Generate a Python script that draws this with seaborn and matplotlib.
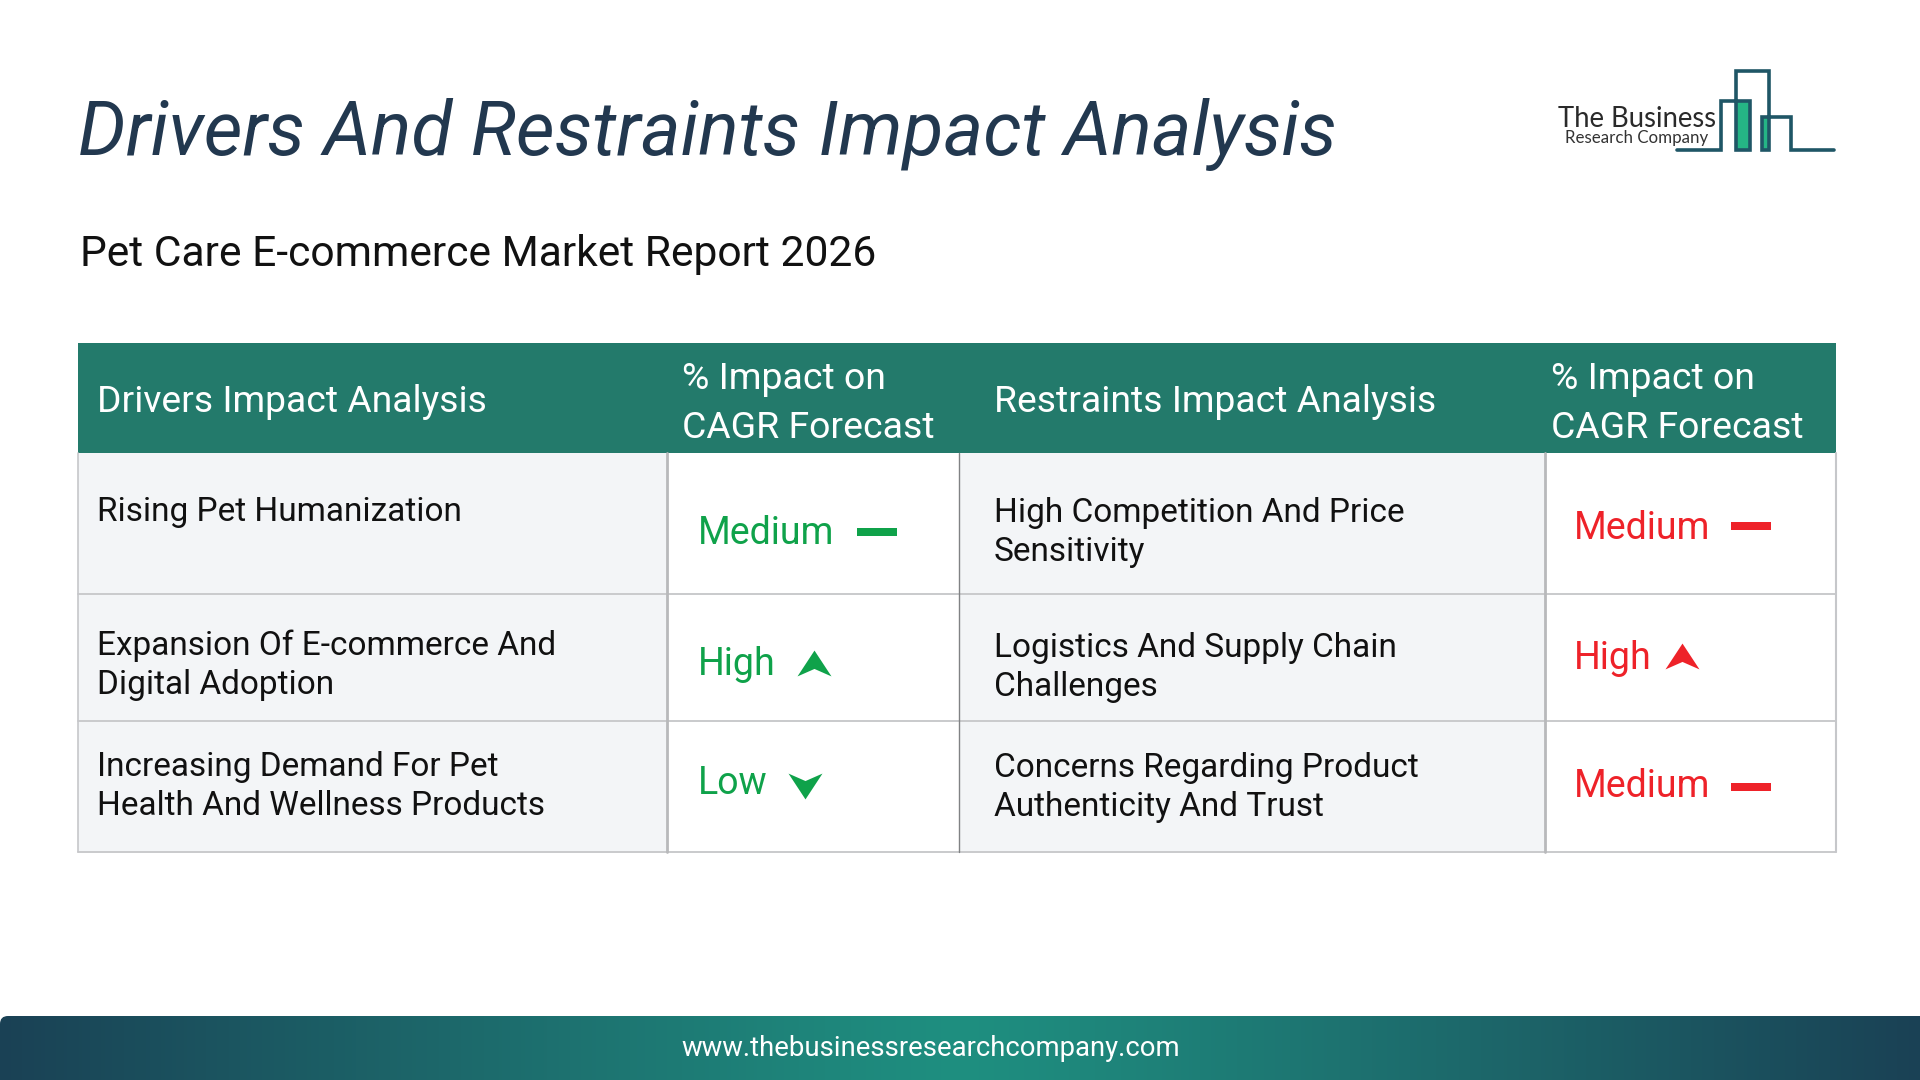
import numpy as np
import seaborn as sns
import matplotlib.pyplot as plt
from matplotlib.path import Path
from matplotlib.patches import PathPatch, Rectangle

title = "Drivers And Restraints Impact Analysis"
subtitle = "Pet Care E-commerce Market Report 2026"
website = "www.thebusinessresearchcompany.com"
driver_header = "Drivers Impact Analysis"
restraint_header = "Restraints Impact Analysis"
impact_header = ["% Impact on", "CAGR Forecast"]
drivers = [["Rising Pet Humanization"],
           ["Expansion Of E-commerce And", "Digital Adoption"],
           ["Increasing Demand For Pet", "Health And Wellness Products"]]
driver_levels = ["Medium", "High", "Low"]
restraints = [["High Competition And Price", "Sensitivity"],
              ["Logistics And Supply Chain", "Challenges"],
              ["Concerns Regarding Product", "Authenticity And Trust"]]
restraint_levels = ["Medium", "High", "Medium"]

# layout, in pixels of the 1920x1080 picture
col_x = [78, 667, 959, 1545, 1836]
row_y = [453, 594, 721, 852]
driver_base = [521, 655, 776]
restraint_base = [522, 657, 777]
green_label_base = [544, 675, 794]
red_label_base = [539, 669, 797]
green_marker = [(877, 532), (814, 663), (805, 786)]
red_marker = [(1751, 526), (1682, 656), (1751, 787)]

GREEN = "#0fa24a"
RED = "#ee2229"
TEAL = "#237a6b"
NAVY = "#22384f"

dash = Path([(-1, -.22), (1, -.22), (1, .22), (-1, .22), (-1, -.22)], closed=True)
up = Path([(0, .76), (1, -.76), (0, -.32), (-1, -.76), (0, .76)], closed=True)
down = Path([(0, -.76), (1, .76), (0, .32), (-1, .76), (0, -.76)], closed=True)
markers = {"Medium": dash, "High": up, "Low": down}
marker_px = {"Medium": 40, "High": 34, "Low": 34}

sns.set_theme(style="white")
plt.rcParams["font.family"] = ["Roboto", "DejaVu Sans"]

fig = plt.figure(figsize=(19.2, 10.8), dpi=100, facecolor="white")
ax = fig.add_axes([0, 0, 1, 1])
ax.set_xlim(0, 1920)
ax.set_ylim(1080, 0)
ax.axis("off")

ax.text(78, 155, title, fontsize=54.2, style="italic", color=NAVY)
ax.text(80, 266, subtitle, fontsize=30.7, color="#111111")

# table body
for i in range(4):
    fill = "#f3f5f7" if i % 2 == 0 else "white"
    ax.add_patch(Rectangle((col_x[i], 453), col_x[i + 1] - col_x[i], 399, fc=fill, ec="none"))
ax.add_patch(Rectangle((78, 343), 1758, 110, fc=TEAL, ec="none"))
for y in row_y[1:]:
    ax.plot([78, 1836], [y, y], color="#c9cacc", lw=1.4)
ax.plot([78, 78], [453, 852], color="#c6c7ca", lw=1.2)
ax.plot([1836, 1836], [453, 852], color="#c6c7ca", lw=1.5)
ax.plot([667, 667], [453, 852], color="#b8b9bb", lw=2.0)
ax.plot([959, 959], [453, 852], color="#808284", lw=1.0)
ax.plot([1545, 1545], [453, 852], color="#b8b9bb", lw=2.0)

ax.text(97, 412, driver_header, fontsize=26.8, color="white")
ax.text(994, 412, restraint_header, fontsize=26.8, color="white")
for x in [682, 1551]:
    ax.text(x, 389, impact_header[0], fontsize=26.9, color="white")
    ax.text(x, 438, impact_header[1], fontsize=26.9, color="white")

for lines, base in zip(drivers, driver_base):
    for j, line in enumerate(lines):
        ax.text(97, base + 39 * j, line, fontsize=24, color="#111111")
for lines, base in zip(restraints, restraint_base):
    for j, line in enumerate(lines):
        ax.text(994, base + 39 * j, line, fontsize=24, color="#111111")

for level, base, pos in zip(driver_levels, green_label_base, green_marker):
    ax.text(698, base, level, fontsize=27, color=GREEN)
    sns.scatterplot(x=[pos[0]], y=[pos[1]], marker=markers[level], color=GREEN,
                    s=(marker_px[level] * 0.72) ** 2, linewidth=0, ax=ax)
for level, base, pos in zip(restraint_levels, red_label_base, red_marker):
    ax.text(1574, base, level, fontsize=27, color=RED)
    sns.scatterplot(x=[pos[0]], y=[pos[1]], marker=markers[level], color=RED,
                    s=(marker_px[level] * 0.72) ** 2, linewidth=0, ax=ax)

# logo
LOGO = "#1f5666"
ax.add_patch(Rectangle((1736, 101), 14, 49, fc="#25b585", ec="none"))
ax.add_patch(Rectangle((1763, 118), 6, 32, fc="#25b585", ec="none"))
ax.plot([1677, 1721, 1721, 1750, 1750, 1736, 1736, 1769, 1769, 1762, 1762, 1791, 1791, 1834],
        [150, 150, 101, 101, 150, 150, 71, 71, 150, 150, 117, 117, 150, 150],
        color=LOGO, lw=2.6, solid_joinstyle="miter")
ax.text(1637, 127, "The Business", fontsize=19.8, family="Lato", color="#2a2a2a", ha="center")
ax.text(1637, 143, "Research Company", fontsize=12.2, family="Lato", color="#333333", ha="center")

# footer bar with horizontal gradient, only the top left corner is rounded
t = np.abs(np.linspace(-1, 1, 512))[None, :, None]
edge = np.array([0x1a, 0x41, 0x55])[None, None, :] / 255
mid = np.array([0x1f, 0x8f, 0x80])[None, None, :] / 255
grad = mid + (edge - mid) * t ** 1.1
im = ax.imshow(grad, extent=(0, 1920, 1080, 1016), aspect="auto", zorder=1)
outline = Path([(0, 1080), (0, 1024), (0, 1016), (8, 1016), (1920, 1016), (1920, 1080), (0, 1080)],
               [Path.MOVETO, Path.LINETO, Path.CURVE3, Path.CURVE3, Path.LINETO, Path.LINETO, Path.CLOSEPOLY])
clip = PathPatch(outline, transform=ax.transData, fc="none", ec="none")
ax.add_patch(clip)
im.set_clip_path(clip)
ax.set_xlim(0, 1920)
ax.set_ylim(1080, 0)
ax.text(931, 1056, website, fontsize=19.8, color="white", ha="center", zorder=2)

fig.savefig("out.png", dpi=100)
